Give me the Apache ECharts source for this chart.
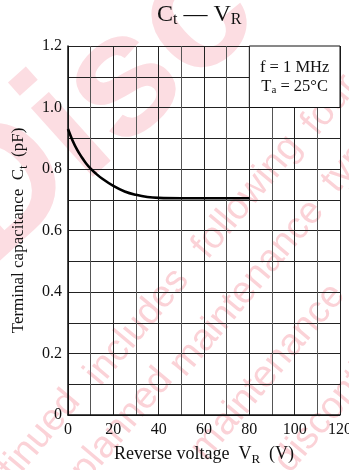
<!DOCTYPE html>
<html>
<head>
<meta charset="utf-8">
<script src="https://cdn.jsdelivr.net/npm/echarts@6/dist/echarts.min.js"></script>
<style>html,body{margin:0;padding:0;background:#fff;}#c{width:349px;height:470px;}</style>
</head>
<body>
<div id="c"></div>
<script>
// Data
var voltage = [0, 2, 4, 6, 8, 10, 12, 15, 20, 25, 30, 35, 40, 50, 60, 70, 80];
var capacitance = [0.93, 0.893, 0.863, 0.839, 0.818, 0.801, 0.787, 0.769, 0.745, 0.727, 0.716, 0.709, 0.706, 0.705, 0.705, 0.705, 0.705];
var xTicks = [0, 20, 40, 60, 80, 100, 120];
var yTicks = [0, 0.2, 0.4, 0.6, 0.8, 1.0, 1.2];
var conditionBox = {x: [80, 120], y: [1.0, 1.2]};

var serif = 'Liberation Serif';
var pink = '#fbd2d7';

var chart = echarts.init(document.getElementById('c'), null, {renderer: 'canvas'});

var wm = function (text, x, y, rot, size, color, weight) {
  return {
    type: 'text', z: -10, x: x, y: y, rotation: rot * Math.PI / 180,
    style: {text: text, fill: color || pink, align: 'center', verticalAlign: 'middle',
      font: (weight || 'normal') + ' ' + size + 'px "Liberation Sans", Arial, sans-serif'}
  };
};

var option = {
  animation: false,
  backgroundColor: '#fff',
  title: {
    text: 'C{s|t} — V{s|R}',
    left: 152, top: -3,
    textStyle: {
      fontFamily: serif, fontSize: 24, fontWeight: 'normal', color: '#111',
      rich: {s: {fontFamily: serif, fontSize: 16, verticalAlign: 'bottom', padding: [10, 0, 0, 0], color: '#111'}}
    }
  },
  graphic: [
    wm('Disc', 95, 110, 42, 175, '#fcdde2', 'bold'),
    wm('tinued', 40, 435, 50, 38),
    wm('includes', 137, 327, 50, 38),
    wm('following', 247, 197, 50, 38),
    wm('four', 330, 105, 50, 38),
    wm('planned', 122, 425, 50, 38),
    wm('maintenance', 247, 288, 50, 38),
    wm('type', 352, 160, 50, 38),
    wm('maintenance', 268, 372, 50, 38),
    wm('discontin', 330, 410, 50, 38)
  ],
  grid: {left: 68, right: 9, top: 46, bottom: 55, containLabel: false, outerBoundsMode: 'none'},
  xAxis: {
    type: 'value', min: xTicks[0], max: xTicks[xTicks.length - 1], interval: 20,
    name: 'Reverse voltage  V{s|R}  (V)', nameLocation: 'middle', nameGap: 27,
    nameTextStyle: {fontFamily: serif, fontSize: 18, color: '#111',
      rich: {s: {fontFamily: serif, fontSize: 13, verticalAlign: 'bottom', padding: [11, 0, 0, 0], color: '#111'}}},
    axisLine: {show: true, lineStyle: {color: '#111', width: 1.5}},
    axisTick: {show: false},
    minorTick: {show: false, splitNumber: 2},
    axisLabel: {fontFamily: serif, fontSize: 16, color: '#111', margin: 7,
      formatter: function (v) { return xTicks.indexOf(v) >= 0 ? String(v) : ''; }},
    splitLine: {show: true, lineStyle: {color: '#222', width: 1}},
    minorSplitLine: {show: true, lineStyle: {color: '#555', width: 1}}
  },
  yAxis: {
    type: 'value', min: yTicks[0], max: yTicks[yTicks.length - 1], interval: 0.2,
    name: 'Terminal capacitance  C{s|t}  (pF)', nameLocation: 'middle', nameGap: 38, nameRotate: 90,
    nameTextStyle: {fontFamily: serif, fontSize: 17, color: '#111',
      rich: {s: {fontFamily: serif, fontSize: 12, verticalAlign: 'bottom', padding: [10, 0, 0, 0], color: '#111'}}},
    axisLine: {show: true, lineStyle: {color: '#111', width: 1.5}},
    axisTick: {show: false},
    minorTick: {show: false, splitNumber: 2},
    axisLabel: {fontFamily: serif, fontSize: 16, color: '#111', margin: 6,
      formatter: function (v) { return v === 0 ? '0' : v.toFixed(1); }},
    splitLine: {show: true, lineStyle: {color: '#222', width: 1}},
    minorSplitLine: {show: true, lineStyle: {color: '#222', width: 1}}
  },
  series: [{
    type: 'line',
    data: voltage.map(function (v, i) { return [v, capacitance[i]]; }),
    smooth: 0.4,
    showSymbol: false,
    lineStyle: {color: '#000', width: 2.6},
    markArea: {
      silent: true,
      itemStyle: {color: '#fff', borderColor: '#111', borderWidth: 1, opacity: 1},
      label: {
        show: true, position: 'inside',
        formatter: 'f = 1 MHz\nT{s|a} = 25°C',
        fontFamily: serif, fontSize: 16.5, color: '#111', lineHeight: 19, align: 'center',
        rich: {s: {fontFamily: serif, fontSize: 11, verticalAlign: 'bottom', padding: [8, 0, 0, 0], color: '#111'}}
      },
      data: [[{coord: [conditionBox.x[0], conditionBox.y[0]]}, {coord: [conditionBox.x[1], conditionBox.y[1]]}]]
    }
  }]
};
chart.setOption(option);
</script>
</body>
</html>
